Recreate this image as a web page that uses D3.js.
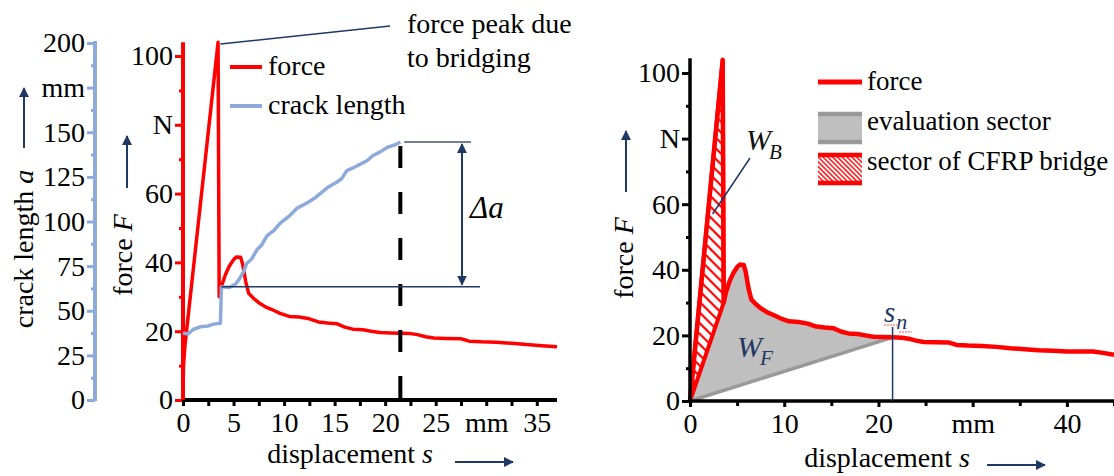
<!DOCTYPE html>
<html>
<head>
<meta charset="utf-8">
<script src="https://cdn.jsdelivr.net/npm/d3@7"></script>
<style>
  body { margin: 0; background: #fff; }
  svg text { font-family: "Liberation Serif", "Times New Roman", serif; }
</style>
</head>
<body>
<div id="chart"></div>
<script>
const width = 1114;
const height = 476;

// force curve (shared by both panels): displacement in mm, force in N
const forceDisp = [0, 3.47, 3.58, 3.8, 4.2, 4.6, 5.0, 5.3, 5.7, 5.9, 6.2, 6.5, 7.0, 7.5, 8.2, 8.8, 9.6, 10.5,
    11.5, 12.5, 13.4, 14.3, 15.2, 16.0, 16.8, 17.8, 18.6, 19.5, 20.5, 21.5, 22.5, 23.2, 24.0, 24.8, 26.0,
    27.5, 28.3, 29.5, 31.0, 32.5, 34.0, 35.5, 37.0, 38.5, 40.0, 41.5, 42.8, 44.0, 45.0];
const forceVal = [0, 104, 30, 33, 36.5, 39, 40.8, 41.6, 41.5, 39.5, 34.5, 31, 29.5, 28.3, 27, 26.3, 25.2, 24.3,
    24.1, 23.6, 22.7, 22.4, 22.2, 21.2, 20.6, 20.4, 20.0, 19.6, 19.5, 19.4, 19.3, 19.0, 18.4, 18.0, 17.9,
    17.8, 17.1, 16.9, 16.8, 16.5, 16.1, 15.8, 15.5, 15.3, 15.1, 15.1, 15.1, 14.6, 14.1];
// the left panel's recording starts with a small offset before the linear rise
const leftStartDisp = [0, 0.05, 0.2];
const leftStartVal = [0, 10, 16];

// crack length (left panel)
const crackDisp = [0, 0.5, 1, 1.7, 2.5, 3, 3.7, 3.8, 4.6, 5.2, 5.6, 6, 6.3, 6.8, 7.3, 7.8, 8.3, 9, 9.6, 10.5,
    11.3, 12.3, 13, 14.3, 15.2, 15.7, 16.2, 17, 17.5, 18.2, 18.8, 19.5, 20.2, 21, 21.5];
const crackLen = [37.5, 37, 39.5, 41, 41.5, 42.5, 43, 63.5, 63, 65, 68, 72, 76.5, 79, 84, 87, 92, 95, 99, 103,
    107.5, 110.5, 113, 119, 122, 124, 128.5, 130.5, 132, 134, 137, 139, 141.5, 143, 144.5];

// evaluation end point and bridging sector
const sEnd = 21.5;
const peakIndex = 1;
const dropIndex = 2;

// tick values / labels
const forceTicks = [0, 20, 40, 60, 80, 100];
const forceTickLabels = ['0', '20', '40', '60', 'N', '100'];
const forceMinor = [10, 30, 50, 70, 90];
const crackTicks = [0, 25, 50, 75, 100, 125, 150, 175, 200];
const crackTickLabels = ['0', '25', '50', '75', '100', '125', '150', 'mm', '200'];
const crackMinor = [12.5, 37.5, 62.5, 87.5, 112.5, 137.5, 162.5, 187.5];
const leftXTicks = [0, 5, 10, 15, 20, 25, 30, 35];
const leftXTickLabels = ['0', '5', '10', '15', '20', '25', 'mm', '35'];
const leftXMinor = [2.5, 7.5, 12.5, 17.5, 22.5, 27.5, 32.5];
const rightXTicks = [0, 10, 20, 30, 40];
const rightXTickLabels = ['0', '10', '20', 'mm', '40'];
const rightXMinor = [5, 15, 25, 35, 45];

const red = '#ff0000';
const blue = '#8eaadb';
const navy = '#1f3864';
const font = '"Liberation Serif", "Times New Roman", serif';

const svg = d3.select('#chart').append('svg')
    .attr('width', width)
    .attr('height', height);

const defs = svg.append('defs');
function hatch(id, step, sw) {
    const p = defs.append('pattern')
        .attr('id', id)
        .attr('patternUnits', 'userSpaceOnUse')
        .attr('width', step)
        .attr('height', step)
        .attr('patternTransform', 'rotate(-45)');
    p.append('rect').attr('width', step).attr('height', step).attr('fill', '#fff');
    p.append('line')
        .attr('x1', step / 2).attr('y1', 0)
        .attr('x2', step / 2).attr('y2', step)
        .attr('stroke', red)
        .attr('stroke-width', sw);
}
hatch('hatch', 7.5, 2.2);
hatch('hatchSmall', 3.4, 1.4);

defs.append('marker')
    .attr('id', 'arrow')
    .attr('viewBox', '0 0 10 10')
    .attr('refX', 9).attr('refY', 5)
    .attr('markerWidth', 5).attr('markerHeight', 5)
    .attr('markerUnits', 'strokeWidth')
    .attr('orient', 'auto-start-reverse')
    .append('path')
    .attr('d', 'M0,0 L10,5 L0,10 z')
    .attr('fill', navy);

// ---------- helpers ----------
function styleAxis(g, color, tickWidth, fontSize) {
    g.attr('font-family', font).attr('font-size', fontSize || 28);
    g.select('.domain').remove();
    g.selectAll('.tick line').attr('stroke', color).attr('stroke-width', tickWidth);
    g.selectAll('.tick text').attr('fill', '#000');
}

function axisTitle(x, y, rotate, main, italic, size) {
    const t = svg.append('text')
        .attr('transform', `translate(${x},${y})` + (rotate ? ' rotate(-90)' : ''))
        .attr('text-anchor', 'middle')
        .attr('font-size', size || 28)
        .attr('fill', '#000');
    t.append('tspan').text(main);
    t.append('tspan').attr('font-style', 'italic').text(italic);
    return t;
}

function arrow(x1, y1, x2, y2, both) {
    const l = svg.append('line')
        .attr('x1', x1).attr('y1', y1)
        .attr('x2', x2).attr('y2', y2)
        .attr('stroke', navy)
        .attr('stroke-width', 2)
        .attr('marker-end', 'url(#arrow)');
    if (both) l.attr('marker-start', 'url(#arrow)');
}

const forceData = forceDisp.map((s, i) => ({s, f: forceVal[i]}));
const crackData = crackDisp.map((s, i) => ({s, a: crackLen[i]}));

// =============== LEFT PANEL ===============
const xL = d3.scaleLinear().domain([0, 37]).range([183, 557]);
const yF = d3.scaleLinear().domain([0, 100]).range([400, 56]);
const yA = d3.scaleLinear().domain([0, 200]).range([400, 43]);

// crack length axis
svg.append('line')
    .attr('x1', 95).attr('x2', 95)
    .attr('y1', yA(0) + 1).attr('y2', yA(200) - 2)
    .attr('stroke', blue).attr('stroke-width', 4);
svg.append('g').attr('transform', 'translate(95,0)')
    .call(d3.axisLeft(yA).tickValues(crackMinor).tickSize(4).tickFormat(''))
    .call(g => styleAxis(g, blue, 3));
svg.append('g').attr('transform', 'translate(95,0)')
    .call(d3.axisLeft(yA).tickValues(crackTicks).tickSize(8).tickPadding(2)
        .tickFormat((d, i) => crackTickLabels[i]))
    .call(g => styleAxis(g, blue, 3));

// force axis (red)
svg.append('line')
    .attr('x1', 183).attr('x2', 183)
    .attr('y1', yF(0) + 2).attr('y2', yF(104))
    .attr('stroke', red).attr('stroke-width', 4);
svg.append('g').attr('transform', 'translate(183,0)')
    .call(d3.axisLeft(yF).tickValues(forceMinor).tickSize(4).tickFormat(''))
    .call(g => styleAxis(g, red, 3));
svg.append('g').attr('transform', 'translate(183,0)')
    .call(d3.axisLeft(yF).tickValues(forceTicks).tickSize(8).tickPadding(2)
        .tickFormat((d, i) => forceTickLabels[i]))
    .call(g => styleAxis(g, red, 3));

// x axis
svg.append('line')
    .attr('x1', xL(0)).attr('x2', xL(37))
    .attr('y1', 400).attr('y2', 400)
    .attr('stroke', '#000').attr('stroke-width', 4);
svg.append('g').attr('transform', 'translate(0,400)')
    .call(d3.axisBottom(xL).tickValues(leftXMinor).tickSize(6).tickFormat(''))
    .call(g => styleAxis(g, '#000', 3));
svg.append('g').attr('transform', 'translate(0,400)')
    .call(d3.axisBottom(xL).tickValues(leftXTicks).tickSize(6).tickPadding(6)
        .tickFormat((d, i) => leftXTickLabels[i]))
    .call(g => styleAxis(g, '#000', 3));

// axis titles
axisTitle(33, 249, true, 'crack length ', 'a');
arrow(24, 148, 24, 88);
axisTitle(132, 255, true, 'force ', 'F');
arrow(127, 188, 127, 136);
axisTitle(350, 463, false, 'displacement ', 's');
arrow(455, 462, 513, 462);

// lines
const lineF = d3.line().x(d => xL(d.s)).y(d => yF(d.f));
const leftForce = leftStartDisp.map((s, i) => ({s, f: leftStartVal[i]}))
    .concat(forceData.slice(1).filter(d => d.s <= 37));
svg.append('path')
    .datum(leftForce)
    .attr('d', lineF)
    .attr('fill', 'none')
    .attr('stroke', red)
    .attr('stroke-width', 3.5)
    .attr('stroke-linejoin', 'round');

svg.append('path')
    .datum(crackData)
    .attr('d', d3.line().x(d => xL(d.s)).y(d => yA(d.a)))
    .attr('fill', 'none')
    .attr('stroke', blue)
    .attr('stroke-width', 3.5)
    .attr('stroke-linejoin', 'round');

// crack growth annotation
const aTop = crackLen[crackLen.length - 1];
const aBottom = crackLen[7];
svg.append('line')
    .attr('x1', xL(sEnd)).attr('x2', xL(sEnd))
    .attr('y1', yA(aTop) + 4).attr('y2', 400)
    .attr('stroke', '#000').attr('stroke-width', 4)
    .attr('stroke-dasharray', '22,24');
svg.append('line')
    .attr('x1', xL(sEnd) + 4).attr('x2', 471)
    .attr('y1', yA(aTop)).attr('y2', yA(aTop))
    .attr('stroke', '#44546a').attr('stroke-width', 1.5);
svg.append('line')
    .attr('x1', xL(crackDisp[7])).attr('x2', 480)
    .attr('y1', yA(aBottom)).attr('y2', yA(aBottom))
    .attr('stroke', navy).attr('stroke-width', 1.5);
arrow(462, yA(aTop) + 2, 462, yA(aBottom) - 2, true);
svg.append('text')
    .attr('x', 470).attr('y', 218)
    .attr('font-size', 31)
    .attr('font-style', 'italic')
    .text('\u0394a');

// peak annotation
svg.append('line')
    .attr('x1', xL(3.7)).attr('y1', yF(103.5))
    .attr('x2', 390).attr('y2', 26)
    .attr('stroke', navy).attr('stroke-width', 1.5);
svg.append('text').attr('x', 407).attr('y', 33).attr('font-size', 28).text('force peak due');
svg.append('text').attr('x', 407).attr('y', 67).attr('font-size', 28).text('to bridging');

// legend
svg.append('line').attr('x1', 230).attr('x2', 262).attr('y1', 67).attr('y2', 67)
    .attr('stroke', red).attr('stroke-width', 4);
svg.append('text').attr('x', 268).attr('y', 75).attr('font-size', 28).text('force');
svg.append('line').attr('x1', 230).attr('x2', 262).attr('y1', 106).attr('y2', 106)
    .attr('stroke', blue).attr('stroke-width', 4);
svg.append('text').attr('x', 268).attr('y', 114).attr('font-size', 28).text('crack length');

// =============== RIGHT PANEL ===============
const xR = d3.scaleLinear().domain([0, 45]).range([690, 1114]);
const yR = d3.scaleLinear().domain([0, 100]).range([401, 73]);

const endForce = forceVal[forceDisp.indexOf(sEnd)];
const sector = [{s: 0, f: 0}]
    .concat(forceData.filter((d, i) => i >= dropIndex && d.s <= sEnd))
    .concat([{s: 0, f: 0}]);
const bridge = [{s: 0, f: 0}, forceData[peakIndex], forceData[dropIndex], {s: 0, f: 0}];
const lineR = d3.line().x(d => xR(d.s)).y(d => yR(d.f));

svg.append('path').datum(sector).attr('d', lineR).attr('fill', '#bfbfbf').attr('stroke', 'none');
svg.append('path').datum(bridge).attr('d', lineR).attr('fill', 'url(#hatch)')
    .attr('stroke', red).attr('stroke-width', 4).attr('stroke-linejoin', 'round');
svg.append('path').datum([{s: 0, f: 0}, {s: sEnd, f: endForce}]).attr('d', lineR)
    .attr('stroke', '#999').attr('stroke-width', 3.5);
svg.append('path')
    .datum(forceData)
    .attr('d', lineR)
    .attr('fill', 'none')
    .attr('stroke', red)
    .attr('stroke-width', 4.5)
    .attr('stroke-linejoin', 'round');

// axes
svg.append('line')
    .attr('x1', 690).attr('x2', 690)
    .attr('y1', yR(0) + 2).attr('y2', yR(104.5))
    .attr('stroke', '#000').attr('stroke-width', 3.5);
svg.append('g').attr('transform', 'translate(690,0)')
    .call(d3.axisLeft(yR).tickValues(forceMinor).tickSize(4).tickFormat(''))
    .call(g => styleAxis(g, '#000', 3));
svg.append('g').attr('transform', 'translate(690,0)')
    .call(d3.axisLeft(yR).tickValues(forceTicks).tickSize(8).tickPadding(2)
        .tickFormat((d, i) => forceTickLabels[i]))
    .call(g => styleAxis(g, '#000', 3));
svg.append('line')
    .attr('x1', 688).attr('x2', 1114)
    .attr('y1', 401).attr('y2', 401)
    .attr('stroke', '#000').attr('stroke-width', 3.5);
svg.append('g').attr('transform', 'translate(0,401)')
    .call(d3.axisBottom(xR).tickValues(rightXMinor).tickSize(5).tickFormat(''))
    .call(g => styleAxis(g, '#000', 3));
svg.append('g').attr('transform', 'translate(0,401)')
    .call(d3.axisBottom(xR).tickValues(rightXTicks).tickSize(6).tickPadding(6)
        .tickFormat((d, i) => rightXTickLabels[i]))
    .call(g => styleAxis(g, '#000', 3));

axisTitle(633, 258, true, 'force ', 'F');
arrow(626, 192, 626, 131);
axisTitle(887, 467, false, 'displacement ', 's');
arrow(987, 465, 1045, 465);

// annotations
svg.append('line')
    .attr('x1', 750).attr('y1', 158)
    .attr('x2', xR(2.4)).attr('y2', yR(57))
    .attr('stroke', navy).attr('stroke-width', 1.5);
const wb = svg.append('text').attr('x', 746).attr('y', 150).attr('font-style', 'italic').attr('fill', '#111');
wb.append('tspan').attr('font-size', 30).text('W');
wb.append('tspan').attr('font-size', 21).attr('dx', -2).attr('dy', 9).text('B');

const wf = svg.append('text').attr('x', 737).attr('y', 357).attr('font-style', 'italic').attr('fill', navy);
wf.append('tspan').attr('font-size', 30).text('W');
wf.append('tspan').attr('font-size', 21).attr('dx', -2).attr('dy', 8).text('F');

svg.append('line')
    .attr('x1', xR(sEnd)).attr('x2', xR(sEnd))
    .attr('y1', 327).attr('y2', 401)
    .attr('stroke', navy).attr('stroke-width', 1.5);
const sn = svg.append('text').attr('x', 884).attr('y', 322).attr('font-style', 'italic').attr('fill', navy);
sn.append('tspan').attr('font-size', 29).text('s');
sn.append('tspan').attr('font-size', 22).attr('dx', 1).attr('dy', 7).text('n');
svg.append('line').attr('x1', 884).attr('x2', 897).attr('y1', 325).attr('y2', 325)
    .attr('stroke', red).attr('stroke-width', 1).attr('stroke-dasharray', '2,1').attr('opacity', 0.7);
svg.append('line').attr('x1', 899).attr('x2', 912).attr('y1', 332).attr('y2', 332)
    .attr('stroke', red).attr('stroke-width', 1).attr('stroke-dasharray', '2,1').attr('opacity', 0.7);

// legend
svg.append('line').attr('x1', 818).attr('x2', 862).attr('y1', 82).attr('y2', 82)
    .attr('stroke', red).attr('stroke-width', 5);
svg.append('text').attr('x', 867).attr('y', 90).attr('font-size', 27).text('force');
svg.append('rect').attr('x', 818).attr('y', 114).attr('width', 44).attr('height', 28).attr('fill', '#bfbfbf');
svg.append('line').attr('x1', 818).attr('x2', 862).attr('y1', 114).attr('y2', 114)
    .attr('stroke', '#999').attr('stroke-width', 4.5);
svg.append('line').attr('x1', 818).attr('x2', 862).attr('y1', 142).attr('y2', 142)
    .attr('stroke', '#999').attr('stroke-width', 4.5);
svg.append('text').attr('x', 867).attr('y', 130).attr('font-size', 27).text('evaluation sector');
svg.append('rect').attr('x', 818).attr('y', 155).attr('width', 44).attr('height', 28).attr('fill', 'url(#hatchSmall)');
svg.append('line').attr('x1', 818).attr('x2', 862).attr('y1', 155).attr('y2', 155)
    .attr('stroke', red).attr('stroke-width', 4.5);
svg.append('line').attr('x1', 818).attr('x2', 862).attr('y1', 183).attr('y2', 183)
    .attr('stroke', red).attr('stroke-width', 4.5);
svg.append('text').attr('x', 867).attr('y', 170).attr('font-size', 27).text('sector of CFRP bridge');
</script>
</body>
</html>
